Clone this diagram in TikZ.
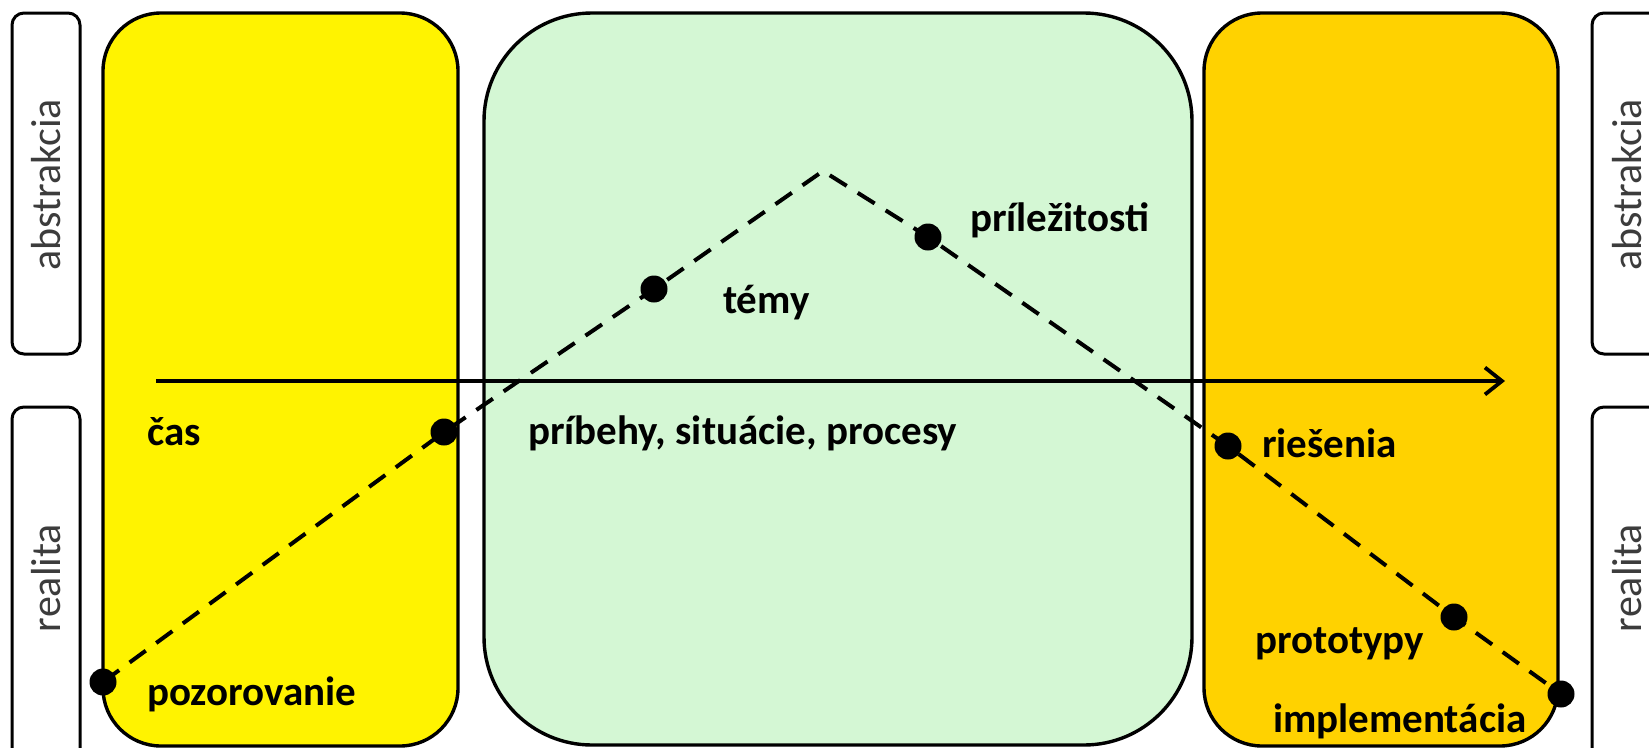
\documentclass[tikz,border=0pt]{standalone}
\usepackage{fontspec}
\setmainfont{Carlito}
\usetikzlibrary{arrows.meta}
\definecolor{cyellow}{RGB}{255,243,0}
\definecolor{cgreen}{RGB}{212,247,212}
\definecolor{corange}{RGB}{255,210,0}
\definecolor{cgrey}{RGB}{60,60,60}
\tikzset{
  panel/.style={draw=black, line width=3.4pt},
  sidebox/.style={draw=black, line width=3pt, rounded corners=12pt, fill=white},
  sidelabel/.style={text=cgrey, font=\fontsize{42}{46}\selectfont, rotate=90, inner sep=0pt},
  lbl/.style={font=\bfseries\fontsize{41}{45}\selectfont, anchor=base west, inner sep=0pt},
  dot/.style={circle, fill=black, minimum size=27pt, inner sep=0pt},
  dashline/.style={line width=4pt, dash pattern=on 20pt off 13pt},
  timeline/.style={line width=3.8pt, -{Straight Barb[length=17pt,width=27pt,line width=3.8pt]}}
}
\begin{document}
\begin{tikzpicture}[x=1pt,y=-1pt]
\useasboundingbox (0,0) rectangle (1649,747);
\clip (0,0) rectangle (1649,747);
\fill[white] (0,0) rectangle (1649,747);
% side boxes
\draw[sidebox] (12,13) rectangle (80,354);
\draw[sidebox] (12,407) rectangle (80,780);
\draw[sidebox] (1592,13) rectangle (1680,354);
\draw[sidebox] (1592,407) rectangle (1680,780);
\node[sidelabel] (absL) at (46,185) {abstrakcia};
\node[sidelabel] (realL) at (46,578) {realita};
\node[sidelabel] (absR) at (1627,185) {abstrakcia};
\node[sidelabel] (realR) at (1627,578) {realita};
% panels
\draw[panel, fill=cyellow, rounded corners=58pt] (103,13) rectangle (458,746);
\draw[panel, fill=cgreen, rounded corners=108pt] (484,13) rectangle (1192,745);
\draw[panel, fill=corange, rounded corners=58pt] (1204,13) rectangle (1558,746);
% time arrow
\coordinate (tstart) at (156,381);
\coordinate (tend) at (1505,381);
\draw[timeline] (tstart) -- (tend);
% dashed path points
\coordinate (p1) at (103,682);
\coordinate (p2) at (444,432);
\coordinate (p3) at (654,289);
\coordinate (apex) at (823,171);
\coordinate (p4) at (928,237);
\coordinate (p5) at (1228,446);
\coordinate (p6) at (1454,617);
\coordinate (p7) at (1561,694);
\draw[dashline] (p1) -- (p2) -- (p3) -- (apex) -- (p4) -- (p5) -- (p6) -- (p7);
\node[dot] (d1) at (p1) {};
\node[dot] (d2) at (p2) {};
\node[dot] (d3) at (p3) {};
\node[dot] (d4) at (p4) {};
\node[dot] (d5) at (p5) {};
\node[dot] (d6) at (p6) {};
\node[dot] (d7) at (p7) {};
% labels
\node[lbl] (cas) at (147,445) {čas};
\node[lbl] (pozor) at (147,705) {pozorovanie};
\node[lbl] (pribehy) at (528,444) {príbehy, situácie, procesy};
\node[lbl] (temy) at (723,313) {témy};
\node[lbl] (prilez) at (970,231) {príležitosti};
\node[lbl] (riesenia) at (1262,457) {riešenia};
\node[lbl] (proto) at (1255,653) {prototypy};
\node[lbl] (impl) at (1273,732) {implementácia};
\end{tikzpicture}
\end{document}
